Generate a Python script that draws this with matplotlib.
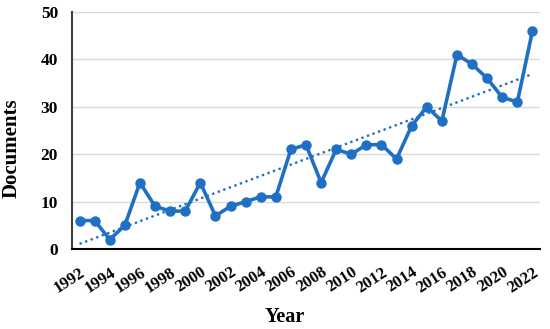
import numpy as np
import matplotlib
matplotlib.use("Agg")
import matplotlib.pyplot as plt

years = list(range(1992, 2023))
docs = [6, 6, 2, 5, 14, 9, 8, 8, 14, 7, 9, 10, 11, 11, 21, 22, 14, 21, 20, 22,
        22, 19, 26, 30, 27, 41, 39, 36, 32, 31, 46]

plt.rcParams['font.family'] = ['Liberation Serif', 'DejaVu Serif']
plt.rcParams['font.weight'] = 'bold'

fig = plt.figure(figsize=(5.5, 3.29), dpi=100)
ax = fig.add_axes([72/550, 1 - 249/329, 468/550, 237/329])

col = '#1f6fc4'
ax.plot(years, docs, color=col, lw=2.6, marker='o', ms=6.5, zorder=3)

# linear trend
k, b = np.polyfit(years, docs, 1)
xt = np.array([years[0], years[-1]])
ax.plot(xt, k * xt + b, color=col, lw=1.7, ls=(0, (1, 1.5)), zorder=2)

ax.set_xlim(1991.5, 2022.5)
ax.set_ylim(0, 50)
ax.set_yticks(range(0, 51, 10))
ax.set_xticks(years[::2])
ax.set_xticklabels([str(y) for y in years[::2]], rotation=33, ha='right',
                   rotation_mode='anchor', fontsize=12, fontweight='bold')
for t in ax.get_yticklabels():
    t.set_fontsize(12.5)
    t.set_fontweight('bold')
ax.tick_params(length=0, pad=10)
ax.tick_params(axis='x', pad=11)
ax.grid(axis='y', color='#d9d9d9', lw=1)
ax.set_axisbelow(True)
for s in ['top', 'right']:
    ax.spines[s].set_visible(False)
ax.spines['left'].set_color('#404040')
ax.spines['left'].set_linewidth(1.5)
ax.spines['bottom'].set_color('#000000')
ax.spines['bottom'].set_linewidth(1.5)

fig.text(285/550, 1 - 317/329, 'Year', ha='center', va='center',
         fontsize=14.5, fontweight='bold')
fig.text(11.5/550, 1 - 148/329, 'Documents', ha='center', va='center',
         rotation=90, fontsize=15, fontweight='bold')

fig.savefig('out.png', dpi=100)
